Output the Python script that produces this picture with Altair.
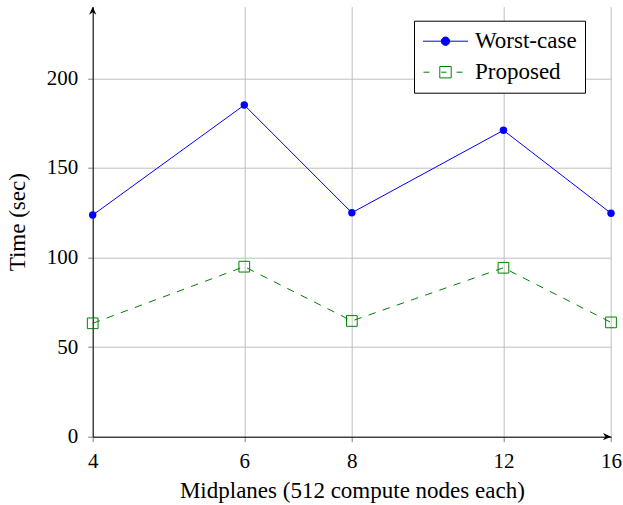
import altair as alt
import pandas as pd

# Measured run times per partition size
midplanes = [4, 6, 8, 12, 16]
worst_case = [123.7, 185.1, 125.0, 171.0, 124.7]
proposed = [63.3, 94.9, 64.6, 94.3, 63.8]

series_names = ["Worst-case", "Proposed"]
series_colors = ["#0000ff", "#008000"]
y_ticks = [0, 50, 100, 150, 200]
x_domain = [4, 16]
y_domain = [0, 240]

FONT = "Liberation Serif"

df = pd.DataFrame({
    "Midplanes": midplanes * 2,
    "Time": worst_case + proposed,
    "Series": [series_names[0]] * len(midplanes) + [series_names[1]] * len(midplanes),
})

x_enc = alt.X(
    "Midplanes:Q",
    scale=alt.Scale(type="log", base=2, domain=x_domain, nice=False),
    axis=alt.Axis(values=midplanes, format="d", title="Midplanes (512 compute nodes each)"),
)
y_enc = alt.Y(
    "Time:Q",
    scale=alt.Scale(domain=y_domain, nice=False),
    axis=alt.Axis(values=y_ticks, title="Time (sec)"),
)

is_worst = alt.datum.Series == series_names[0]
is_prop = alt.datum.Series == series_names[1]

# Worst-case: solid blue line with filled circles
worst_line = alt.Chart(df).transform_filter(is_worst).mark_line(
    strokeWidth=1, color=series_colors[0]
).encode(x=x_enc, y=y_enc)
worst_pts = alt.Chart(df).transform_filter(is_worst).mark_point(
    shape="circle", filled=True, size=55, color=series_colors[0], opacity=1
).encode(x=x_enc, y=y_enc)

# Proposed: dashed green line with open squares
prop_line = alt.Chart(df).transform_filter(is_prop).mark_line(
    strokeWidth=1, color=series_colors[1], strokeDash=[7.5, 7.5]
).encode(x=x_enc, y=y_enc)
prop_pts = alt.Chart(df).transform_filter(is_prop).mark_point(
    shape="square", filled=False, size=115, color=series_colors[1], strokeWidth=1, opacity=1
).encode(x=x_enc, y=y_enc)

# Legend glyphs: line sample with the marker in the middle (circle built from cubic curves)
legend_paths = [
    "M-1.875,0L1.875,0"
    "M0.35,0C0.35,0.193 0.193,0.35 0,0.35C-0.193,0.35 -0.35,0.193 -0.35,0"
    "C-0.35,-0.193 -0.193,-0.35 0,-0.35C0.193,-0.35 0.35,-0.193 0.35,0Z",
    "M-1.833,0L-1.333,0M-0.36,0L0.083,0M0.917,0L1.417,0"
    "M-0.475,-0.475L0.475,-0.475L0.475,0.475L-0.475,0.475Z",
]

legend_def = alt.Legend(
    title=None,
    orient="none",
    legendX=321.3,
    legendY=14,
    padding=8,
    rowPadding=6,
    symbolSize=576,
    symbolOffset=11,
    labelOffset=17,
    symbolStrokeWidth=1,
    symbolOpacity=1,
    fillColor="white",
    strokeColor="black",
    cornerRadius=0,
    labelFont=FONT,
    labelFontSize=23,
    labelColor="black",
)

# Glyph-only layer: its rows are filtered out, so it contributes just the legend
legend_layer = alt.Chart(df).transform_filter(
    alt.datum.Time < 0
).mark_point(filled=True).encode(
    x=x_enc,
    y=y_enc,
    shape=alt.Shape("Series:N", scale=alt.Scale(domain=series_names, range=legend_paths), legend=legend_def),
    stroke=alt.Stroke("Series:N", scale=alt.Scale(domain=series_names, range=series_colors), legend=legend_def),
    fill=alt.Fill("Series:N", scale=alt.Scale(domain=series_names, range=[series_colors[0], "transparent"]),
                  legend=legend_def),
)

# Arrowheads at the ends of both axes
ARROW = "M0,0L0.45,1L0,0.7L-0.45,1Z"
arrow_df = pd.DataFrame({
    "Midplanes": [x_domain[0], x_domain[1]],
    "Time": [y_domain[1], y_domain[0]],
    "rot": [0, 90],
})
arrows = alt.Chart(arrow_df).mark_point(shape=ARROW, filled=True, color="black", size=256, opacity=1).encode(
    x=x_enc, y=y_enc, angle=alt.Angle("rot:Q", scale=None)
)

chart = alt.layer(worst_line, prop_line, worst_pts, prop_pts, arrows, legend_layer).properties(
    width=518.3,
    height=430,
    autosize=alt.AutoSizeParams(type="none"),
    padding={"left": 92.7, "top": 6.7, "right": 12, "bottom": 68.3},
).configure_view(
    stroke=None
).configure_axis(
    labelFont=FONT,
    labelFontSize=21,
    labelColor="black",
    labelFlush=False,
    labelOverlap=False,
    titleFont=FONT,
    titleFontSize=23,
    titleFontWeight="normal",
    titleColor="black",
    domainColor="black",
    domainWidth=1,
    tickColor="#808080",
    tickSize=5,
    tickWidth=1,
    gridColor="#bfbfbf",
    gridWidth=1,
).configure_axisX(
    labelPadding=9,
    titlePadding=8,
).configure_axisY(
    labelPadding=10,
    titlePadding=17,
)

chart.save("out.html", embed_options={"renderer": "svg", "actions": False})
